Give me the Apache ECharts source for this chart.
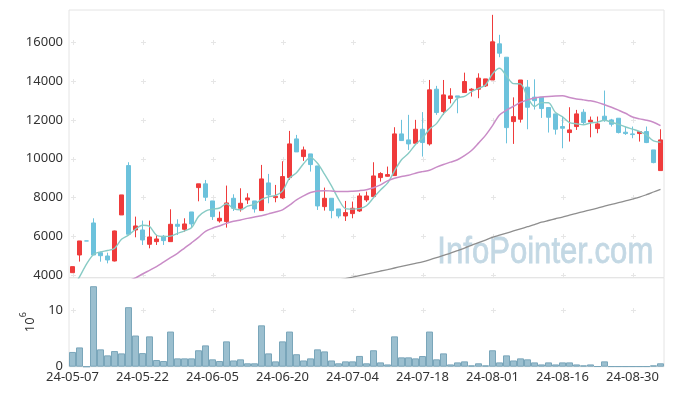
<!DOCTYPE html>
<html><head><meta charset="utf-8">
<script src="https://cdn.jsdelivr.net/npm/echarts@6/dist/echarts.min.js"></script>
<style>html,body{margin:0;padding:0;background:#fff}#c{width:673px;height:396px}</style>
</head><body><div id="c"></div>
<script>
const dates = ['24-05-07','24-05-08','24-05-09','24-05-10','24-05-13','24-05-14','24-05-16','24-05-17','24-05-20','24-05-21',
'24-05-22','24-05-23','24-05-24','24-05-27','24-05-28','24-05-29','24-05-30','24-05-31','24-06-03','24-06-04',
'24-06-05','24-06-07','24-06-10','24-06-11','24-06-12','24-06-13','24-06-14','24-06-17','24-06-18','24-06-19',
'24-06-20','24-06-21','24-06-24','24-06-25','24-06-26','24-06-27','24-06-28','24-07-01','24-07-02','24-07-03',
'24-07-04','24-07-05','24-07-08','24-07-09','24-07-10','24-07-11','24-07-12','24-07-15','24-07-16','24-07-17',
'24-07-18','24-07-19','24-07-22','24-07-23','24-07-24','24-07-25','24-07-26','24-07-29','24-07-30','24-07-31',
'24-08-01','24-08-02','24-08-05','24-08-06','24-08-07','24-08-08','24-08-09','24-08-12','24-08-13','24-08-14',
'24-08-16','24-08-19','24-08-20','24-08-21','24-08-22','24-08-23','24-08-26','24-08-27','24-08-28','24-08-29',
'24-08-30','24-09-02','24-09-03','24-09-04','24-09-05'];

const openP = [4120,5032,5755,6683,5150,4980,4722,7096,9642,6322,
6322,5582,5720,5995,5720,6614,6356,7250,8506,8700,
7820,6786,6752,7956,7440,7870,7818,7320,8748,7990,
7973,9022,11017,10106,10244,9624,7526,7956,7406,7044,
7165,7302,7870,8042,9022,9091,9126,11276,10966,10794,
11517,10760,13580,12428,13100,13236,13408,13528,13580,13753,
14056,15920,15230,11910,12033,13684,13170,13168,12634,12308,
11654,11345,11654,12394,11895,11550,12188,11998,12084,11362,
11276,11293,11396,10450,9384];

const closeP = [4430,5755,5755,5032,4995,4775,6270,8128,6100,6528,
5806,5961,5858,5772,6614,6511,6632,6632,8700,8008,
7010,6924,7715,7440,7698,7973,7406,8954,8128,8060,
9074,10760,10347,10450,9693,7560,7956,7320,7044,7216,
7440,8076,8076,9108,9229,9177,11276,10932,10760,11517,
10829,13546,12376,13288,13236,13168,13976,13580,14150,14113,
16024,15438,11600,12165,14056,12650,12990,12583,12135,11517,
11568,11482,12308,11860,11980,11791,11963,11774,11345,11293,
11241,11396,10829,9796,10966];

const lowP = [4120,4690,5755,5032,4686,4600,4700,7096,6100,5944,
5548,5376,5548,5548,5720,6064,6236,6450,7800,7820,
6838,6700,6442,7302,7268,7664,7216,7320,7698,7750,
7920,8900,10347,9882,9332,7354,7320,6924,6924,6786,
6924,7250,7767,8000,8816,9070,9126,10932,10450,10794,
10106,10674,12256,12256,12850,12340,13408,13200,13116,13700,
14056,15230,10790,10760,11860,11515,12530,12100,11345,11240,
10536,10880,11482,11740,11100,11310,11900,11654,11300,11224,
11052,10880,10800,9760,9384];

const highP = [4430,5755,5755,6924,5200,5150,6290,8128,9814,7010,
6804,6804,6064,6064,7388,6872,6924,7250,8700,8900,
7820,7268,8610,8162,8472,8214,7818,9676,9212,8645,
9865,11430,11224,10622,10244,9624,8506,7956,7406,7818,
7784,8214,8300,9814,9298,9590,11620,12000,12258,12000,
12400,14056,13753,14056,13632,13236,14434,13632,14400,14113,
17416,16384,15230,13160,14056,14056,14090,13168,12634,12308,
12170,12650,12514,12548,12170,12170,13512,12050,12084,11654,
11654,11420,11654,10450,11516];

const ma5 = [3300,3900,4560,5060,5194,5263,5366,5841,6054,6360,
6566,6505,6051,5985,6002,6143,6277,6432,7018,7297,
7396,7455,7671,7419,7357,7550,7646,7894,8032,8104,
8324,8995,9274,9738,10065,9762,9201,8596,7915,7419,
7395,7419,7570,7983,8386,8733,9373,9944,10275,10732,
11063,11517,11806,12311,12655,13123,13209,13450,13622,13797,
14369,14661,14265,13868,13857,13182,12692,12889,12883,12375,
12159,11857,11802,11747,11840,11884,11980,11874,11771,11633,
11523,11410,11221,10911,10846];

const ma20 = ['-','-','-','-','-','-','-','-',3700,3850,
4050,4240,4430,4660,4890,5120,5390,5660,5940,6250,
6410,6530,6660,6770,6840,6920,6990,7050,7150,7250,
7360,7600,7870,8080,8250,8330,8350,8330,8310,8300,
8320,8350,8400,8500,8650,8850,8990,9080,9140,9250,
9330,9400,9560,9700,9820,9940,10150,10420,10800,11200,
11700,12250,12500,12700,12900,13030,13130,13180,13210,13230,
13240,13150,13080,13030,12980,12900,12780,12650,12500,12340,
12150,12050,11980,11880,11700];

const ma120 = ['-','-','-','-','-','-','-','-','-','-',
'-','-','-','-','-','-','-','-','-','-',
'-','-','-','-','-','-','-','-','-','-',
'-','-','-','-','-','-',3580,3660,3740,3815,
3890,3970,4050,4125,4205,4280,4360,4440,4520,4600,
4680,4780,4890,5010,5130,5260,5390,5530,5670,5800,
5940,6050,6160,6270,6380,6490,6600,6720,6810,6900,
6990,7090,7180,7270,7360,7450,7550,7640,7730,7820,
7910,8010,8140,8280,8420];

const volume = [2.6,3.4,0,14.2,3.06,2.0,2.76,2.35,10.5,5.5,
2.4,5.35,1.18,1.0,6.2,1.47,1.47,1.47,2.9,3.76,
1.3,1.0,4.47,1.1,1.3,0.6,0.6,7.3,2.35,0.94,
4.47,6.2,2.2,1.1,1.47,3.06,2.7,1.1,0.6,0.94,
0.94,1.9,0.6,2.9,0.76,0.4,5.35,1.65,1.65,1.47,
1.88,6.2,1.3,2.35,0.4,0.76,0.94,0.24,0.6,0.24,
2.9,0.76,2.0,1.1,1.47,1.3,0.76,0.4,0.76,0.4,
0.76,0.76,0.4,0.24,0.4,0.06,0.94,0.05,0.05,0.05,
0.05,0.05,0.05,0.24,0.6];

const priceTicks = [4000,6000,8000,10000,12000,14000,16000];
const volTicks = [10];

const FONT = '"Noto Sans", "DejaVu Sans", sans-serif';
const candleData = dates.map((d, i) => [openP[i], closeP[i], lowP[i], highP[i]]);
const crossMain = [], crossVol = [];
for (let i = 0; i < dates.length; i += 10) {
  priceTicks.forEach(v => crossMain.push([i, v]));
  volTicks.forEach(v => crossVol.push([i, v]));
}
function plus(params, api) {
  const p = api.coord([api.value(0), api.value(1)]);
  const x = Math.round(p[0]) + 0.5, y = Math.round(p[1]) + 0.5;
  const st = {stroke: '#e6e6e6', lineWidth: 1};
  return {type: 'group', children: [
    {type: 'line', shape: {x1: x - 2.5, y1: y, x2: x + 2.5, y2: y}, style: st},
    {type: 'line', shape: {x1: x, y1: y - 2.5, x2: x, y2: y + 2.5}, style: st}
  ]};
}

const chart = echarts.init(document.getElementById('c'), null, {renderer: 'canvas'});
chart.setOption({
  animation: false,
  backgroundColor: '#ffffff',
  graphic: [{
    type: 'text', left: 437, top: 234, z: 1, silent: true, scaleX: 0.84,
    style: {text: 'InfoPointer.com', fill: '#c3d8e4', stroke: '#c3d8e4', lineWidth: 0.8,
            font: '37px "Liberation Sans", Arial, sans-serif'}
  }],
  grid: [
    {left: 69, right: 9, top: 10, height: 267.7, show: true, borderColor: '#e4e4e4', borderWidth: 1, backgroundColor: 'transparent'},
    {left: 69, right: 9, top: 277.7, height: 89, show: true, borderColor: '#e4e4e4', borderWidth: 1, backgroundColor: 'transparent'}
  ],
  xAxis: [
    {type: 'category', gridIndex: 0, data: dates, boundaryGap: true,
     axisLine: {show: false}, axisTick: {show: false}, axisLabel: {show: false}, splitLine: {show: false}},
    {type: 'category', gridIndex: 1, data: dates, boundaryGap: true,
     axisLine: {show: false}, axisTick: {show: false}, splitLine: {show: false},
     axisLabel: {interval: 9, margin: 4, color: '#333', fontSize: 13, fontFamily: FONT}}
  ],
  yAxis: [
    {type: 'value', gridIndex: 0, min: 3860, max: 17665, minInterval: 2000, maxInterval: 2000,
     axisLine: {show: false}, axisTick: {show: false}, splitLine: {show: false},
     axisLabel: {margin: 6, color: '#333', fontSize: 13, fontFamily: FONT,
       formatter: v => (v % 2000 === 0 ? String(v) : '')}},
    {type: 'value', gridIndex: 1, min: 0, max: 15.7, interval: 10,
     axisLine: {show: false}, axisTick: {show: false}, splitLine: {show: false},
     axisLabel: {margin: 6, color: '#333', fontSize: 13, fontFamily: FONT,
       formatter: v => (v === 0 || v === 10 ? String(v) : '')},
     name: '{b|10}{s|6}', nameLocation: 'middle', nameRotate: 90, nameGap: 25,
     nameTextStyle: {color: '#333', fontFamily: FONT,
       rich: {b: {fontSize: 13, fontFamily: FONT, color: '#333', verticalAlign: 'bottom', lineHeight: 18},
              s: {fontSize: 9, fontFamily: FONT, color: '#333', verticalAlign: 'top', lineHeight: 12}}}}
  ],
  series: [
    {type: 'custom', xAxisIndex: 0, yAxisIndex: 0, data: crossMain, renderItem: plus, z: 1, silent: true},
    {type: 'custom', xAxisIndex: 1, yAxisIndex: 1, data: crossVol, renderItem: plus, z: 1, silent: true},
    {type: 'candlestick', xAxisIndex: 0, yAxisIndex: 0, data: candleData, barWidth: 5,
     itemStyle: {color: '#ef3b3b', color0: '#6cc2dc', borderColor: '#ef3b3b', borderColor0: '#6cc2dc',
                 borderColorDoji: '#6cc2dc', borderWidth: 1}},
    {type: 'line', xAxisIndex: 0, yAxisIndex: 0, data: ma5, showSymbol: false, smooth: 0.3, clip: true,
     lineStyle: {color: '#88cbc5', width: 1.4}, z: 3},
    {type: 'line', xAxisIndex: 0, yAxisIndex: 0, data: ma20, showSymbol: false, smooth: 0.3, clip: true,
     lineStyle: {color: '#c98cc7', width: 1.5}, z: 3},
    {type: 'line', xAxisIndex: 0, yAxisIndex: 0, data: ma120, showSymbol: false, smooth: 0.3, clip: true,
     lineStyle: {color: '#8e8e8e', width: 1.3}, z: 3},
    {type: 'bar', xAxisIndex: 1, yAxisIndex: 1, data: volume, barCategoryGap: '0%',
     itemStyle: {color: '#9bbfcf', borderColor: '#7aa6ba', borderWidth: 1}}
  ]
});
</script></body></html>
